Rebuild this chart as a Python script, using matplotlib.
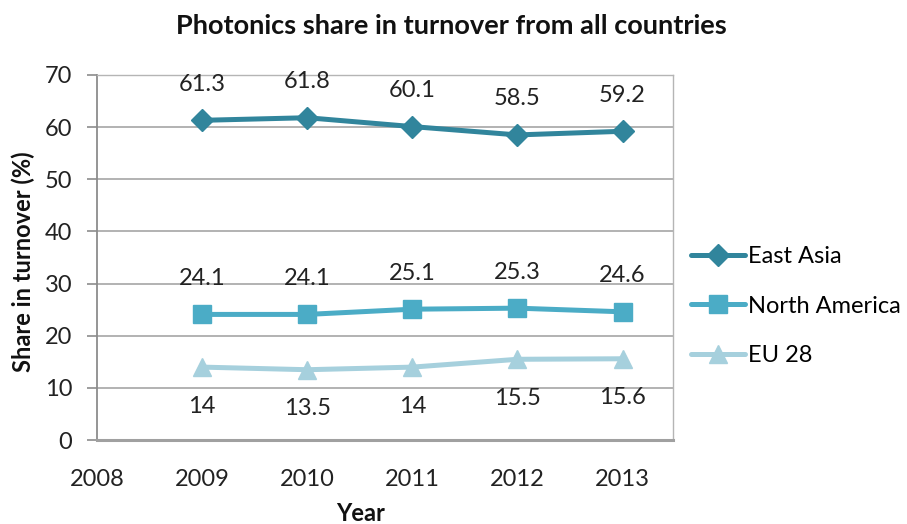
import matplotlib
matplotlib.use("Agg")
import matplotlib.pyplot as plt

plt.rcParams['font.family'] = ['Lato', 'DejaVu Sans']

years = [2009, 2010, 2011, 2012, 2013]
east_asia = [61.3, 61.8, 60.1, 58.5, 59.2]
north_america = [24.1, 24.1, 25.1, 25.3, 24.6]
eu28 = [14, 13.5, 14, 15.5, 15.6]
series_names = ["East Asia", "North America", "EU 28"]
x_ticks = [2008, 2009, 2010, 2011, 2012, 2013]
y_ticks = [0, 10, 20, 30, 40, 50, 60, 70]

colors = ["#31859C", "#4BACC6", "#A6D0DD"]
markers = ["D", "s", "^"]
msizes = [11.5, 13.5, 13.5]

fig = plt.figure(figsize=(9.07, 5.24), dpi=100)
ax = fig.add_axes([0.107, 0.160, 0.635, 0.697])

series = [east_asia, north_america, eu28]
label_offsets = [26, 26, -28]
handles = []
for vals, name, c, m, ms, off in zip(series, series_names, colors, markers, msizes, label_offsets):
    ln, = ax.plot(years, vals, color=c, lw=3.6, marker=m, markersize=ms,
                  markeredgecolor=c, label=name, zorder=3, solid_capstyle='round')
    handles.append(ln)
    for x, v in zip(years, vals):
        ax.annotate(f"{v:g}", (x, v), xytext=(0, off), textcoords="offset points",
                    ha="center", va="center", fontsize=17, color="#222222")

ax.set_xlim(2008, 2013.48)
ax.set_ylim(0, 70)
ax.set_xticks(x_ticks)
ax.set_yticks(y_ticks)
ax.tick_params(axis='x', length=0, pad=21, labelsize=17, colors="#222222")
ax.tick_params(axis='y', length=7, width=1.2, color="#8c8c8c", pad=11, labelsize=17,
               labelcolor="#222222")
ax.yaxis.grid(True, color="#a6a6a6", lw=1.2)
ax.set_axisbelow(True)
for side in ["top", "right"]:
    ax.spines[side].set_color("#b5b5b5")
    ax.spines[side].set_linewidth(1.0)
ax.spines["left"].set_color("#8c8c8c")
ax.spines["left"].set_linewidth(1.3)
ax.spines["bottom"].set_color("#a0a0a0")
ax.spines["bottom"].set_linewidth(2.2)

fig.text(0.498, 0.950, "Photonics share in turnover from all countries",
         ha="center", va="center", fontsize=19.5, fontweight="bold", color="#111111")
fig.text(0.026, 0.50, "Share in turnover (%)", rotation=90, ha="center", va="center",
         fontsize=17, fontweight="bold", color="#111111")
fig.text(0.397, 0.020, "Year", ha="center", va="center",
         fontsize=17, fontweight="bold", color="#111111")

leg = fig.legend(handles=handles, loc="center left", bbox_to_anchor=(0.749, 0.416),
                 frameon=False, fontsize=17, handlelength=2.3, handletextpad=0.1,
                 labelspacing=1.2, borderpad=0)

fig.savefig("out.png", dpi=100, facecolor="white")
